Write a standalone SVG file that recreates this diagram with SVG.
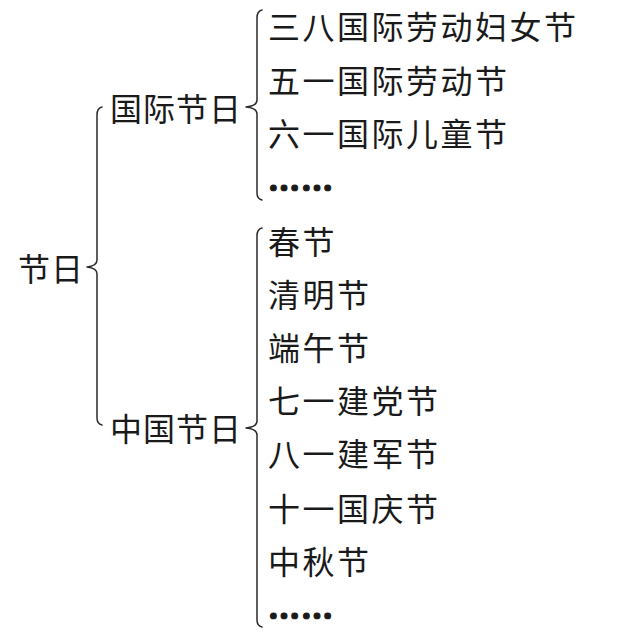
<svg xmlns="http://www.w3.org/2000/svg" width="621" height="636" viewBox="0 0 621 636">
<style>
.t{font-family:"Noto Sans CJK SC","Noto Sans CJK JP",sans-serif;font-size:32px;fill:#1a1a1a;dominant-baseline:central}
.item{letter-spacing:2.5px}
.lab{letter-spacing:1px}
.dots{font-weight:900;stroke:#1a1a1a;stroke-width:1.2;letter-spacing:1px}
.br{fill:none;stroke:#2a2a2a;stroke-width:1.5;stroke-linecap:round;stroke-linejoin:round}
</style>
<rect width="621" height="636" fill="#ffffff"/>
<g id="connectors">
<path class="br" d="M102,107 Q97,108 97,115 L97,260 Q97,266 87,267 Q97,268 97,274 L97,418 Q97,424 102,425"/>
<path class="br" d="M262,10 Q257,11 257,18 L257,100 Q257,106 246,107 Q257,108 257,114 L257,193 Q257,199 262,200"/>
<path class="br" d="M262,228 Q257,229 257,236 L257,421 Q257,427 246,428 Q257,429 257,435 L257,620 Q257,626 262,627"/>
</g>
<g id="root"><text class="t lab" x="18" y="267">节日</text></g>
<g id="intl"><text class="t lab" x="110" y="107">国际节日</text></g>
<g id="cn"><text class="t lab" x="110" y="427">中国节日</text></g>
<g id="intl-items">
<text class="t item" x="268" y="25">三八国际劳动妇女节</text>
<text class="t item" x="268" y="79">五一国际劳动节</text>
<text class="t item" x="268" y="132">六一国际儿童节</text>
<text class="t dots" x="268" y="186">……</text>
</g>
<g id="cn-items">
<text class="t item" x="268" y="240">春节</text>
<text class="t item" x="268" y="293">清明节</text>
<text class="t item" x="268" y="346">端午节</text>
<text class="t item" x="268" y="399">七一建党节</text>
<text class="t item" x="268" y="452">八一建军节</text>
<text class="t item" x="268" y="507">十一国庆节</text>
<text class="t item" x="268" y="560">中秋节</text>
<text class="t dots" x="268" y="614">……</text>
</g>
</svg>
